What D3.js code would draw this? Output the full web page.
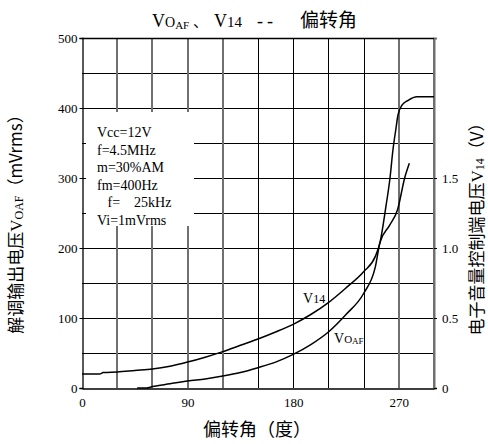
<!DOCTYPE html>
<html>
<head>
<meta charset="utf-8">
<script src="https://cdn.jsdelivr.net/npm/d3@7"></script>
<style>
  body { margin: 0; background: #fff; }
  text { font-family: "Liberation Serif", "Noto Sans CJK SC", serif; fill: #000; }
</style>
</head>
<body>
<svg id="chart" width="488" height="444"></svg>
<script>
// data
var v14_deg  = [0, 15, 18, 30, 45, 60, 75, 90, 105, 120, 135, 150, 165, 180, 195, 210, 225, 240, 250, 254, 259, 262.5, 265, 267.6, 269.3, 272.7, 278, 285.5, 300];
var v14_volt = [0.10, 0.10, 0.11, 0.115, 0.125, 0.135, 0.155, 0.185, 0.22, 0.26, 0.305, 0.35, 0.40, 0.455, 0.525, 0.61, 0.715, 0.83, 0.94, 1.04, 1.295, 1.50, 1.70, 1.855, 1.95, 2.02, 2.055, 2.08, 2.08];
var voaf_deg = [47, 55, 60, 75, 90, 105, 120, 135, 150, 165, 180, 195, 210, 225, 240, 250, 254, 262, 269, 275, 279];
var voaf_mv  = [0, 0, 2, 6, 10, 13, 17, 22, 29, 37, 48, 62, 80, 105, 135, 173, 208, 232, 255, 300, 321];

var x_ticks     = [0, 90, 180, 270];
var x_grid      = [30, 60, 90, 120, 150, 180, 210, 240, 270, 300];
var grey_grid   = [30, 60, 90, 120, 270, 300];
var left_ticks  = [0, 100, 200, 300, 400, 500];
var right_ticks = [0, 0.5, 1.0, 1.5];
var y_grid      = [50, 100, 150, 200, 250, 300, 350, 400, 450, 500];
var note_lines  = ["Vcc=12V", "f=4.5MHz", "m=30%AM", "fm=400Hz", "   f=    25kHz", "Vi=1mVrms"];

var svg = d3.select("#chart");

var x  = d3.scaleLinear().domain([0, 300]).range([82, 434]);
var yl = d3.scaleLinear().domain([0, 500]).range([388, 38]);
var yr = d3.scaleLinear().domain([0, 2.5]).range([388, 38]);

var px = function(v){ return Math.round(v) + 0.5; };

// grid
svg.append("g").selectAll("line").data(y_grid).enter().append("line")
  .attr("x1", x(0)).attr("x2", x(300))
  .attr("y1", function(d){ return px(yl(d)); })
  .attr("y2", function(d){ return px(yl(d)); })
  .style("stroke", "#000").style("stroke-width", 1);

svg.append("g").selectAll("line").data(x_grid).enter().append("line")
  .attr("x1", function(d){ return grey_grid.indexOf(d) >= 0 ? Math.round(x(d)) : px(x(d)); })
  .attr("x2", function(d){ return grey_grid.indexOf(d) >= 0 ? Math.round(x(d)) : px(x(d)); })
  .attr("y1", yl(0)).attr("y2", yl(500))
  .style("stroke", function(d){ return grey_grid.indexOf(d) >= 0 ? "#707070" : "#000"; })
  .style("stroke-width", function(d){ return grey_grid.indexOf(d) >= 0 ? 2 : 1; });

// white note box over the grid
svg.append("rect")
  .attr("x", 86).attr("y", 112).attr("width", 108).attr("height", 114)
  .style("fill", "#fff");

svg.append("g").selectAll("text").data(note_lines).enter().append("text")
  .attr("x", 97)
  .attr("y", function(d, i){ return 137 + i * 17.6; })
  .attr("xml:space", "preserve")
  .style("white-space", "pre")
  .style("font-size", "14px")
  .text(function(d){ return d; });

// axes
var ax_left = svg.append("g").attr("transform", "translate(82.5,0)")
  .call(d3.axisLeft(yl).tickValues(left_ticks).tickSize(3).tickPadding(2));
var ax_right = svg.append("g").attr("transform", "translate(434,0)")
  .call(d3.axisRight(yr).tickValues(right_ticks).tickSize(3).tickPadding(5)
    .tickFormat(function(d){ return d == 0 ? "0" : d3.format(".1f")(d); }));
var ax_bottom = svg.append("g").attr("transform", "translate(0,388.5)")
  .call(d3.axisBottom(x).tickValues(x_ticks).tickSize(0).tickPadding(9));

[ax_left, ax_right, ax_bottom].forEach(function(a){
  a.selectAll("text").style("font-family", "Liberation Serif").style("font-size", "13px").attr("fill", "#000");
  a.selectAll("line").attr("stroke", "#000");
  a.select(".domain").attr("stroke", "#000").attr("stroke-width", 1.3);
});
ax_right.select(".domain").attr("stroke", "#707070").attr("stroke-width", 2);
svg.append("line").attr("x1", 82).attr("x2", 434).attr("y1", 38.5).attr("y2", 38.5)
  .style("stroke", "#000").style("stroke-width", 1.3);

// curves
var line_v14 = d3.line()
  .x(function(d, i){ return x(v14_deg[i]); })
  .y(function(d){ return yr(d); })
  .curve(d3.curveMonotoneX);
var line_voaf = d3.line()
  .x(function(d, i){ return x(voaf_deg[i]); })
  .y(function(d){ return yl(d); })
  .curve(d3.curveMonotoneX);

svg.append("path").attr("d", line_v14(v14_volt))
  .style("fill", "none").style("stroke", "#000").style("stroke-width", 1.5);
svg.append("path").attr("d", line_voaf(voaf_mv))
  .style("fill", "none").style("stroke", "#000").style("stroke-width", 1.5);

// curve labels
var lab1 = svg.append("text").attr("x", 303).attr("y", 303).style("font-size", "14px");
lab1.append("tspan").text("V");
lab1.append("tspan").style("font-size", "12px").text("14");

var lab2 = svg.append("text").attr("x", 334).attr("y", 343).style("font-size", "14px");
lab2.append("tspan").text("V");
lab2.append("tspan").style("font-size", "11px").text("O");
lab2.append("tspan").style("font-size", "9px").attr("dy", 1).text("AF");

// title
var title = svg.append("text").attr("y", 27).style("font-size", "18px");
title.append("tspan").attr("x", 152).text("V");
title.append("tspan").style("font-size", "14px").text("O");
title.append("tspan").style("font-size", "11px").attr("dy", 2).text("AF");
title.append("tspan").attr("x", 193).attr("dy", -2).style("font-family", "Noto Sans CJK SC").style("font-size", "15px").text("、");
title.append("tspan").attr("x", 214).text("V");
title.append("tspan").style("font-size", "15px").text("14");
title.append("tspan").attr("x", 257).style("letter-spacing", "4px").text("--");
title.append("tspan").attr("x", 300).style("font-family", "Noto Sans CJK SC").style("font-size", "19px").text("偏转角");

// axis titles
svg.append("text").attr("x", 257).attr("y", 436).attr("text-anchor", "middle")
  .style("font-size", "18px").style("font-family", "Noto Sans CJK SC")
  .text("偏转角（度）");

var yt1 = svg.append("text").attr("transform", "translate(22,220) rotate(-90)")
  .attr("text-anchor", "middle").style("font-size", "17px");
yt1.append("tspan").style("font-family", "Noto Sans CJK SC").text("解调输出电压");
yt1.append("tspan").text("V");
yt1.append("tspan").style("font-size", "12px").attr("dy", 1).text("OAF");
yt1.append("tspan").attr("dy", -1).style("font-family", "Noto Sans CJK SC").text("（mVrms）");

var yt2 = svg.append("text").attr("transform", "translate(483,225) rotate(-90)")
  .attr("text-anchor", "middle").style("font-size", "17px");
yt2.append("tspan").style("font-family", "Noto Sans CJK SC").text("电子音量控制端电压");
yt2.append("tspan").text("V");
yt2.append("tspan").style("font-size", "12px").attr("dy", 1).text("14");
yt2.append("tspan").attr("dy", -1).style("font-family", "Noto Sans CJK SC").text("（V）");
</script>
</body>
</html>
